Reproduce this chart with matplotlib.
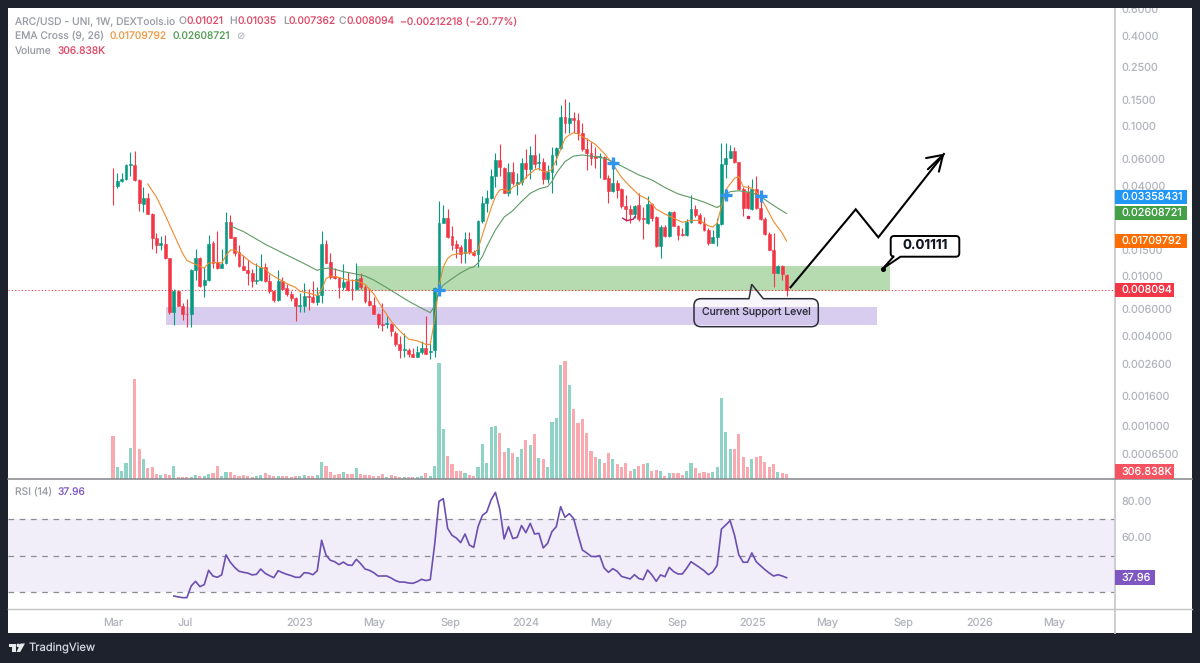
import matplotlib
matplotlib.use('Agg')
import matplotlib.pyplot as plt
import numpy as np
import pandas as pd
from matplotlib.patches import Rectangle, PathPatch, Polygon, Circle
from matplotlib.path import Path

# weekly candles, ARC/USD
start_date = '2022-03-07'
opens = [.0401,.0399,.0433,.0442,.0547,.0550,.0437,.0303,.0333,.0261,
         .0178,.0161,.0164,.0132,.00574,.0079,.00635,.0056,.0056,.0109,
         .0131,.0087,.0094,.0165,.0124,.0113,.0122,.0229,.0181,.0144,
         .0116,.0110,.0104,.0093,.0094,.0115,.0092,.0079,.0069,.0093,
         .0083,.0076,.0071,.0063,.0063,.0074,.0072,.0067,.0075,.0164,
         .0124,.0100,.0097,.0084,.0092,.0082,.0082,.0097,.0085,.0068,
         .0064,.0056,.0048,.0048,.0048,.0042,.0035,.0032,.0032,.0030,
         .0029,.0031,.0033,.0031,.0032,.0083,.0227,.0245,.0185,.0163,
         .0155,.0142,.0176,.0145,.0141,.0232,.0306,.0330,.0465,.0594,
         .0528,.0360,.0496,.0411,.0426,.0567,.0515,.0641,.0564,.0573,
         .0444,.0496,.0640,.0710,.1155,.1053,.1135,.1098,.0894,.0699,
         .0658,.0631,.0625,.0625,.0448,.0371,.0419,.0379,.0295,.0279,
         .0259,.0296,.0243,.0225,.0303,.0246,.0159,.0211,.0185,.0268,
         .0216,.0190,.0188,.0229,.0279,.0254,.0227,.0203,.0167,.0181,
         .0222,.0558,.0616,.0682,.0573,.0383,.0365,.0279,.0383,.0283,
         .0240,.0191,.0149,.0105,.0117,.01021]
closes = [.0400,.0431,.0444,.0547,.0556,.0437,.0306,.0332,.0261,.0179,
          .0162,.0165,.0132,.00574,.0079,.00635,.0056,.00555,.0109,.0131,
          .0086,.0094,.0163,.0123,.0113,.0121,.0229,.0180,.0142,.0117,
          .0110,.0104,.0092,.0094,.0115,.0093,.0079,.0069,.0092,.0082,
          .0076,.0071,.0063,.0064,.0074,.0072,.0067,.0075,.0164,.0123,
          .0099,.0097,.0084,.0091,.0081,.0081,.0096,.0084,.0068,.0064,
          .0056,.0048,.0047,.00484,.0043,.0035,.0032,.00325,.0030,.0029,
          .0031,.0033,.0030,.00315,.0083,.0227,.0245,.0183,.0161,.0153,
          .0140,.0176,.0145,.0138,.0232,.0309,.0330,.0465,.0594,.0530,
          .0360,.0496,.0415,.0426,.0570,.0515,.0641,.0558,.0579,.0444,
          .0496,.0641,.0710,.1155,.1053,.1135,.1098,.0894,.0699,.0658,
          .0610,.0616,.0634,.0446,.0371,.0415,.0375,.0293,.0279,.0259,
          .0295,.0240,.0239,.0303,.0245,.0159,.0211,.0185,.0268,.0216,
          .0188,.0187,.0229,.0279,.0254,.0227,.0203,.0165,.0181,.0222,
          .0558,.0616,.0685,.0573,.0383,.0283,.0283,.0383,.0285,.0239,
          .0191,.0149,.0105,.0117,.0103,.008094]
highs = [.0528,.0484,.0484,.0558,.0675,.0682,.0441,.0391,.0360,.0265,
         .0193,.0185,.0187,.0132,.00825,.0081,.0066,.0070,.0111,.0152,
         .0133,.0115,.0187,.0170,.0201,.0151,.0269,.0254,.0183,.0161,
         .0138,.0128,.0111,.0122,.0141,.0123,.0103,.0081,.0110,.0099,
         .0089,.0079,.0073,.0077,.0090,.0082,.0093,.0085,.0201,.0174,
         .0142,.0113,.0098,.0121,.0107,.0096,.0123,.0105,.0087,.0083,
         .0072,.0057,.0066,.0054,.0049,.0043,.0040,.0042,.0033,.0033,
         .0034,.0037,.0054,.0037,.0085,.0315,.0298,.0278,.0214,.0174,
         .0161,.0198,.0198,.0149,.0237,.0339,.0375,.0515,.0658,.0760,
         .0536,.0570,.0580,.0489,.0610,.0699,.0736,.0885,.0658,.0610,
         .0550,.0722,.0729,.1380,.1510,.1455,.1247,.1228,.1042,.0828,
         .0787,.0729,.0658,.0631,.0472,.0610,.0437,.0385,.0347,.0298,
         .0298,.0356,.0290,.0339,.0306,.0252,.0219,.0219,.0270,.0270,
         .0219,.0208,.0239,.0347,.0298,.0262,.0249,.0208,.0203,.0243,
         .0767,.0767,.0748,.0729,.0580,.0395,.0405,.0441,.0467,.0330,
         .0249,.0198,.0193,.0118,.0118,.01035]
lows = [.0298,.0385,.0426,.0437,.0465,.0433,.0273,.0269,.0259,.0151,
        .0142,.0148,.0130,.0056,.0047,.0063,.0051,.0046,.0046,.0094,
        .0085,.0072,.0092,.0113,.0111,.0113,.0121,.0178,.0135,.0115,
        .0109,.0087,.0085,.0089,.0093,.0091,.0077,.0067,.0068,.0081,
        .0074,.0068,.0050,.0058,.0058,.0059,.0066,.0064,.0066,.0122,
        .0095,.0096,.0071,.0081,.0079,.0069,.0081,.0082,.0066,.0063,
        .0056,.0045,.0043,.0045,.0040,.0034,.00285,.0029,.0029,.0029,
        .0029,.0030,.0030,.0028,.0029,.0081,.0225,.0178,.0149,.0131,
        .0122,.0123,.0141,.0135,.0114,.0227,.0268,.0325,.0395,.0465,
        .0356,.0339,.0405,.0347,.0405,.0448,.0441,.0523,.0510,.0411,
        .0415,.0356,.0550,.0700,.0894,.0894,.0894,.0807,.0685,.0510,
        .0550,.0523,.0448,.0441,.0309,.0365,.0330,.0283,.0231,.0225,
        .0243,.0231,.0176,.0223,.0231,.0157,.0131,.0181,.0183,.0214,
        .0174,.0185,.0185,.0227,.0249,.0223,.0199,.0161,.0165,.0159,
        .0219,.0448,.0610,.0564,.0375,.0252,.0279,.0276,.0281,.0235,
        .0189,.0148,.0085,.0104,.0094,.007362]

# volume in thousands
volumes = [2997,779,543,1086,2124,7009,2053,1369,732,779,
           307,260,307,283,850,118,71,118,118,260,
           189,189,307,401,897,212,425,425,260,165,
           236,212,118,189,260,354,283,142,142,142,
           142,118,142,142,236,212,212,260,1133,920,
           472,283,307,472,330,307,732,307,236,260,
           165,212,307,94,260,142,118,118,118,71,
           94,142,378,189,897,8189,3493,1558,1038,566,
           543,401,260,142,779,2431,1062,3611,3682,3186,
           1888,2171,1770,1487,2053,2690,2336,3115,1416,1345,
           779,3965,4272,8024,8307,6608,4885,3894,4177,3233,
           1935,1510,1345,1109,1770,1369,1038,826,1109,519,
           661,850,1015,1062,543,614,543,212,378,354,
           354,260,543,1062,732,378,448,378,472,802,
           5711,3304,2077,2077,3139,1487,826,1369,1487,1558,
           1156,826,1038,472,401,306.838]

# EMA cross at these weeks
ema9_weeks = [8,10,12,14,16,17,18,20,21,22,24,25,26,27,28,30,32,34,35,36,38,40,42,43,45,47,48,49,50,52,
              54,56,58,60,62,64,66,68,70,72,73,74,75,76,77,78,80,82,83,84,85,86,87,88,89,90,91,92,93,94,
              95,97,98,99,100,101,102,103,104,105,106,107,108,109,111,113,115,117,119,121,123,125,127,129,131,133,135,137,138,139,
              140,141,143,144,145,147,148,150,152,154,155]
ema9 = [.0411,.0336,.0255,.0190,.0142,.0127,.0123,.0116,.0113,.0122,.0123,.0122,.0137,.0149,.0149,.0136,.0122,.0114,.0112,.0104,.0096,.0089,.0084,.0079,.0077,.0074,.0081,.0096,.0100,.0098,
        .0094,.0093,.0088,.0076,.0061,.0050,.0043,.0038,.0037,.0035,.0035,.0051,.0085,.0115,.0131,.0138,.0142,.0143,.0142,.0151,.0188,.0231,.0284,.0339,.0375,.0379,.0365,.0391,.0405,.0419,
        .0455,.0510,.0521,.0496,.0496,.0515,.0594,.0699,.0828,.0872,.0903,.0885,.0850,.0820,.0755,.0658,.0558,.0455,.0395,.0347,.0325,.0279,.0259,.0243,.0228,.0235,.0235,.0216,.0212,.0225,
        .0290,.0375,.0448,.0460,.0395,.0385,.0365,.0298,.0231,.0193,.01709792]
ema26_weeks = [27,30,35,40,44,47,48,50,53,56,58,60,62,65,68,71,73,74,75,76,78,80,82,83,84,85,86,88,90,92,
               94,96,98,100,101,102,104,106,108,111,113,115,118,121,124,127,130,133,136,139,140,141,142,144,147,149,151,153,155]
ema26 = [.0216,.0198,.0163,.0138,.0121,.0109,.0112,.0113,.0107,.0103,.0100,.0094,.0087,.0077,.0068,.0061,.0057,.0063,.0079,.0087,.0096,.0105,.0113,.0115,.0122,.0135,.0157,.0203,.0247,.0273,
         .0314,.0356,.0381,.0395,.0426,.0484,.0579,.0631,.0641,.0625,.0610,.0579,.0523,.0472,.0437,.0389,.0353,.0333,.0311,.0286,.0298,.0347,.0365,.0370,.0360,.0339,.0309,.0283,.02608721]
cross_weeks = [75,115,141,149]
cross_prices = [.0081,.0564,.0347,.0339]

# RSI(14), starts at week 14
rsi = [28.0,27.5,27.1,27.1,33.5,36.0,33.1,34.2,42.0,38.9,38.2,39.5,50.4,46.4,43.6,41.5,40.9,40.5,39.5,39.8,
       42.7,40.4,39.1,38.0,41.8,40.7,39.8,39.1,38.2,38.2,40.7,40.5,39.6,41.8,58.4,50.4,47.5,46.7,45.1,46.5,
       44.9,44.7,48.0,45.6,42.7,42.0,40.7,38.9,38.9,38.9,37.8,36.4,35.6,35.6,35.1,34.9,35.8,37.1,36.4,36.9,
       55.8,79.6,81.1,64.9,61.1,59.6,57.1,61.8,55.8,54.5,65.8,72.0,73.8,80.4,84.5,75.3,59.1,65.8,59.3,60.0,
       66.4,62.5,67.6,61.8,62.2,54.2,56.7,63.1,65.8,76.7,70.9,72.9,70.2,61.3,53.1,51.5,49.6,49.5,50.0,43.3,
       40.9,42.9,41.5,38.7,38.0,37.3,39.6,37.5,36.9,42.2,39.5,36.0,39.5,38.5,43.6,41.3,40.0,40.0,43.1,46.7,
       45.1,43.5,41.8,39.6,41.1,44.7,64.5,66.7,69.1,61.3,50.4,46.4,46.4,51.5,46.7,44.5,42.4,40.5,38.9,39.6,
       38.9,37.96]

price_ticks = [0.6,0.4,0.25,0.15,0.1,0.06,0.04,0.015,0.01,0.006,0.004,0.0026,0.0016,0.001,0.00065]
price_labels = ['0.6000','0.4000','0.2500','0.1500','0.1000','0.06000','0.04000','0.01500','0.01000',
                '0.006000','0.004000','0.002600','0.001600','0.001000','0.0006500']
rsi_ticks = [80,60]
rsi_labels = ['80.00','60.00']
month_dates = ['2022-03-07','2022-07-01','2023-01-01','2023-05-01','2023-09-01','2024-01-01','2024-05-01',
               '2024-09-01','2025-01-01','2025-05-01','2025-09-01','2026-01-01','2026-05-01']
month_labels = ['Mar','Jul','2023','May','Sep','2024','May','Sep','2025','May','Sep','2026','May']

UP = '#089981'
DOWN = '#f23645'
UP_VOL = '#8fd3c6'
DOWN_VOL = '#f9a9b0'
TICK = '#b2b5be'
GREY = '#9a9da6'
BG = '#1e222d'
FONT = 'Inter'
TICK_SIZE = 7.8
LEGEND_SIZE = 7.4

plt.rcParams['font.family'] = FONT
plt.rcParams['text.hinting'] = 'no_hinting'
plt.rcParams['text.hinting_factor'] = 1

W, H = 1200, 663
fig = plt.figure(figsize=(W / 100, H / 100), dpi=100, facecolor=BG)


def box(left, top, right, bottom):
    return [left / W, 1 - bottom / H, (right - left) / W, (bottom - top) / H]


def page_axes(zorder):
    a = fig.add_axes([0, 0, 1, 1], zorder=zorder)
    a.set_xlim(0, W)
    a.set_ylim(H, 0)
    a.axis('off')
    a.patch.set_alpha(0)
    return a


back = page_axes(0)
back.add_patch(Rectangle((8, 8), 1184, 625, fc='white', ec='none'))

front = page_axes(5)

weeks = np.arange(len(opens))
opens = np.array(opens)
closes = np.array(closes)
highs = np.array(highs)
lows = np.array(lows)
is_up = closes >= opens
xlim = (-24.16, 230.56)

# volume sits under the candles
ax_vol = fig.add_axes(box(8, 8, 1115, 478.5), zorder=1)
ax_vol.patch.set_alpha(0)
ax_vol.bar(weeks, volumes, width=0.72, color=[UP_VOL if u else DOWN_VOL for u in is_up])
ax_vol.set_xlim(xlim)
ax_vol.set_ylim(0, 33300)
ax_vol.axis('off')

ax = fig.add_axes(box(8, 8, 1115, 478.5), zorder=2)
ax.patch.set_alpha(0)
ax.set_yscale('log')
ax.set_xlim(xlim)
ax.set_ylim(0.000447, 0.612)

# support zones
ax.fill_between([56.1, 178.8], 0.00794, 0.01174, color='#b6dbb1', lw=0, zorder=1)
ax.fill_between([12.2, 175.9], 0.00471, 0.00626, color='#d8cdef', lw=0, zorder=1)
ax.axhline(closes[-1], color=DOWN, lw=0.8, ls=(0, (1, 2)), zorder=2)

colors = np.where(is_up, UP, DOWN)
ax.vlines(weeks, lows, highs, colors=colors, lw=0.8, zorder=3)
ax.bar(weeks, np.abs(closes - opens), bottom=np.minimum(opens, closes), width=0.66,
       color=colors, edgecolor=colors, linewidth=0.4, zorder=3)

ax.plot(ema9_weeks, ema9, color='#ef8a2e', lw=0.8, zorder=4)
ax.plot(ema26_weeks, ema26, color='#5f9a63', lw=0.8, zorder=4)
ax.plot(cross_weeks, cross_prices, ls='none', marker='+', ms=9, mew=2.4, color='#2f95ee', zorder=5)

# small stray marks left on the chart
ax.plot([117.3, 118.2, 119.7, 120.1], [.0243, .0234, .0239, .0249], color='#c2185b', lw=1, zorder=5)
ax.plot([146], [.0247], ls='none', marker='s', ms=1.6, color='#d8264a', zorder=5)

# projected path
ax.plot([155.9, 170.9, 176.1, 191.2], [.00841, .02784, .01811, .0651], color='black', lw=1.5, zorder=6,
        solid_joinstyle='miter')
ax.annotate('', xy=(191.3, .0655), xytext=(187.5, .0515), zorder=6,
            arrowprops=dict(arrowstyle='->,head_length=0.65,head_width=0.42', lw=1.5, color='black',
                            mutation_scale=16, shrinkA=0, shrinkB=0))

ax.xaxis.set_visible(False)
ax.yaxis.tick_right()
ax.set_yticks(price_ticks)
ax.set_yticklabels(price_labels)
ax.minorticks_off()
ax.tick_params(axis='y', length=0, pad=5, labelsize=TICK_SIZE, labelcolor=TICK)
for s in ax.spines.values():
    s.set_visible(False)

# RSI pane
ax_rsi = fig.add_axes(box(8, 479, 1115, 609), zorder=2)
ax_rsi.patch.set_alpha(0)
ax_rsi.set_xlim(xlim)
ax_rsi.set_ylim(20.9, 91.8)
ax_rsi.axhspan(30, 70, color='#f1edf9', lw=0, zorder=1)
for level in [30, 50, 70]:
    ax_rsi.axhline(level, color='#8a8d96', lw=0.9, ls=(0, (4.5, 4.5)), zorder=2)
ax_rsi.plot(weeks[14:], rsi, color='#6c4fb0', lw=1.2, zorder=3)
ax_rsi.yaxis.tick_right()
ax_rsi.set_yticks(rsi_ticks)
ax_rsi.set_yticklabels(rsi_labels)
tick_weeks = (pd.to_datetime(month_dates) - pd.Timestamp(start_date)).days / 7
ax_rsi.set_xticks(tick_weeks)
ax_rsi.set_xticklabels(month_labels)
ax_rsi.tick_params(axis='y', length=0, pad=5, labelsize=TICK_SIZE, labelcolor=TICK)
ax_rsi.tick_params(axis='x', length=0, pad=6, labelsize=TICK_SIZE, labelcolor=TICK)
for s in ax_rsi.spines.values():
    s.set_visible(False)

# frame lines
front.plot([1115, 1115], [8, 633], color='#c9cacd', lw=1.3)
front.plot([8, 1192], [479, 479], color='#85868a', lw=1.1)
front.plot([8, 1192], [609, 609], color='#c2c3c6', lw=1.0)
# cut off the part of the top label that leaves the panel
front.add_patch(Rectangle((0, 0), W, 8.3, fc=BG, ec='none', zorder=3))


def tag(y, text, color, right):
    front.add_patch(Rectangle((1115, y - 7.2), right - 1115, 14.4, fc=color, ec='none', zorder=4))
    front.text(1121.7, y, text, color='white', fontsize=TICK_SIZE, va='center', ha='left', zorder=5)


tag(197, '0.03358431', '#2196f3', 1187)
tag(213, '0.02608721', '#43a047', 1187)
tag(241, '0.01709792', '#ff6d00', 1187)
tag(289.7, '0.008094', DOWN, 1174)
tag(471.5, '306.838K', '#f7525f', 1174)
tag(577.5, '37.96', '#7e57c2', 1154.5)


def callout(x0, y0, x1, y1, r, tip, base, side, fc, ec, lw):
    # rounded box with a pointer on its top or bottom edge
    verts = [(x0 + r, y0)]
    codes = [Path.MOVETO]
    if side == 'top':
        verts += [(base[0], y0), tip, (base[1], y0)]
        codes += [Path.LINETO] * 3
    verts += [(x1 - r, y0), (x1, y0), (x1, y0 + r), (x1, y1 - r), (x1, y1), (x1 - r, y1)]
    codes += [Path.LINETO, Path.CURVE3, Path.CURVE3, Path.LINETO, Path.CURVE3, Path.CURVE3]
    if side == 'bottom':
        verts += [(base[1], y1), tip, (base[0], y1)]
        codes += [Path.LINETO] * 3
    verts += [(x0 + r, y1), (x0, y1), (x0, y1 - r), (x0, y0 + r), (x0, y0), (x0 + r, y0), (x0 + r, y0)]
    codes += [Path.LINETO, Path.CURVE3, Path.CURVE3, Path.LINETO, Path.CURVE3, Path.CURVE3, Path.CLOSEPOLY]
    front.add_patch(PathPatch(Path(verts, codes), fc=fc, ec=ec, lw=lw, zorder=2))


callout(890.7, 236, 959.3, 256.7, 3.5, (882.7, 268.7), (893.5, 900.5), 'bottom', 'white', 'black', 1.4)
front.plot([882.7], [268.7], marker='o', ms=2.6, color='black', zorder=3)
front.text(925, 245.5, '0.01111', color='#131722', fontsize=9.6, fontweight='bold', ha='center', va='center', zorder=3)
callout(694, 298.7, 818.3, 326.7, 7, (751.7, 284.3), (749, 763.3), 'top', (0.49, 0.34, 0.76, 0.05), '#2a2e39', 1.1)
front.text(756.3, 312.7, 'Current Support Level', color='#2a2e39', fontsize=7.5, ha='center', va='center', zorder=3)

# legend lines
RED_TXT = '#df4a68'
header = [(15, 21.5, 'ARC/USD - UNI, 1W, DEXTools.io', GREY), (179, 21.5, 'O', GREY), (187, 21.5, '0.01021', RED_TXT),
          (229.5, 21.5, 'H', GREY), (237.5, 21.5, '0.01035', RED_TXT), (283, 21.5, 'L', GREY),
          (288.5, 21.5, '0.007362', RED_TXT), (338.5, 21.5, 'C', GREY), (346.5, 21.5, '0.008094', RED_TXT),
          (399.5, 21.5, '\u22120.00212218 (\u221220.77%)', RED_TXT),
          (15, 36.5, 'EMA Cross (9, 26)', GREY), (109.5, 36.5, '0.01709792', '#ee9a45'), (172.5, 36.5, '0.02608721', '#549c54'),
          (15, 51, 'Volume', GREY), (57.5, 51, '306.838K', RED_TXT),
          (15, 492, 'RSI (14)', GREY), (57.5, 492, '37.96', '#7e57c2')]
for x, y, text, color in header:
    front.text(x, y, text, color=color, fontsize=LEGEND_SIZE, va='center', ha='left', zorder=3)
front.text(236, 36.5, '\u2298', color='#a5a7af', fontsize=7, va='center', ha='left', zorder=3, family='DejaVu Sans')

# TradingView logo and name
front.add_patch(Polygon([(8.5, 643.5), (16, 643.5), (16, 652), (12, 652), (12, 647), (8.5, 647)], fc='#e8e9ec', ec='none'))
front.add_patch(Polygon([(20.5, 643.5), (25, 643.5), (20.2, 652), (16.5, 652)], fc='#e8e9ec', ec='none'))
front.add_patch(Circle((18.3, 645.4), 1.8, fc='#e8e9ec', ec='none'))
front.text(29, 648.3, 'TradingView', color='#d1d4dc', fontsize=8.1, va='center', ha='left')

plt.savefig('out.png', dpi=100, facecolor=BG)
